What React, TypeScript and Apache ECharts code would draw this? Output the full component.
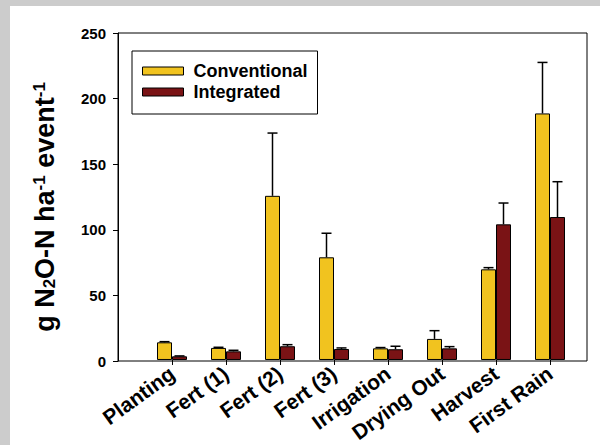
import React, { useEffect, useRef } from 'react';
import * as echarts from 'echarts';

const categories = ['Planting', 'Fert (1)', 'Fert (2)', 'Fert (3)', 'Irrigation', 'Drying Out', 'Harvest', 'First Rain'];
const conventional = [13.5, 9.2, 125.5, 78.5, 8.9, 16.1, 69.3, 188.5];
const conventionalErr = [0.5, 0.5, 48, 18.4, 0.6, 6.3, 1.3, 39];
const integrated = [2.8, 6.6, 10.5, 8.4, 8.2, 8.9, 103.7, 109.3];
const integratedErr = [0.3, 0.8, 1.2, 0.8, 2.3, 1.3, 16.3, 27];
const yTicks = [0, 50, 100, 150, 200, 250];

const FONT = '"Liberation Sans", Arial, sans-serif';
const YELLOW = '#F1C31F';
const DARKRED = '#7A1315';
const BAR_W = 15;

function errSeries(name: string, values: number[], errs: number[], offset: number) {
  return {
    type: 'custom',
    name: name + ' err',
    xAxisIndex: 1,
    yAxisIndex: 1,
    z: 5,
    silent: true,
    encode: { x: 0, y: [1, 2] },
    data: values.map((v, i) => [i, v, v + errs[i]]),
    renderItem: (params: any, api: any) => {
      const base = api.coord([api.value(0), api.value(1)]);
      const top = api.coord([api.value(0), api.value(2)]);
      const cx = base[0] + offset;
      const style = { stroke: '#000', lineWidth: 1.5 };
      return {
        type: 'group',
        children: [
          { type: 'line', shape: { x1: cx, y1: base[1], x2: cx, y2: top[1] }, style },
          { type: 'line', shape: { x1: cx - 5, y1: top[1], x2: cx + 5, y2: top[1] }, style },
        ],
      };
    },
  };
}

export default function App() {
  const ref = useRef<HTMLDivElement>(null);
  useEffect(() => {
    if (!ref.current) return;
    const chart = echarts.init(ref.current, null, { renderer: 'svg' });
    const yMin = yTicks[0];
    const yMax = yTicks[yTicks.length - 1];
    const yInt = yTicks[1] - yTicks[0];
    chart.setOption({
      animation: false,
      backgroundColor: '#ffffff',
      textStyle: { fontFamily: FONT },
      grid: [
        { left: 108, right: 13, top: 27, bottom: 84, show: true, borderColor: '#000', borderWidth: 1, backgroundColor: 'transparent' },
        { left: 135, right: 23, top: 27, bottom: 84 },
      ],
      legend: {
        data: ['Conventional', 'Integrated'],
        orient: 'vertical',
        left: 122,
        top: 45,
        padding: [11, 10, 13, 10],
        itemWidth: 41,
        itemHeight: 8,
        itemGap: 3,
        icon: 'rect',
        borderColor: '#000',
        borderWidth: 1,
        itemStyle: { borderColor: '#000', borderWidth: 1 },
        textStyle: { fontSize: 18, fontWeight: 'bold', color: '#000', fontFamily: FONT, padding: [0, 0, 0, 5] },
      },
      xAxis: [
        { type: 'value', gridIndex: 0, min: 0, max: 1, show: false },
        {
          type: 'category',
          gridIndex: 1,
          data: categories,
          axisLine: { show: false },
          axisTick: { show: true, alignWithLabel: true, length: 5, lineStyle: { color: '#000', width: 1 } },
          axisLabel: { rotate: 36, interval: 0, margin: 11, fontSize: 21, fontWeight: 'bold', color: '#000', fontFamily: FONT },
        },
      ],
      yAxis: [
        {
          type: 'value',
          gridIndex: 0,
          min: yMin,
          max: yMax,
          interval: yInt,
          axisLine: { show: true, lineStyle: { color: '#000', width: 1 } },
          axisTick: { show: true, length: 5, lineStyle: { color: '#000', width: 1 } },
          axisLabel: { fontSize: 15, fontWeight: 'bold', color: '#000', margin: 12, fontFamily: FONT },
          splitLine: { show: false },
          name: '{m|g N}{s|2}{m|O-N ha}{p|-1}{m| event}{p|-1}',
          nameLocation: 'middle',
          nameRotate: 90,
          nameGap: 60,
          nameTextStyle: {
            fontFamily: FONT,
            padding: [0, 20, 0, 0],
            rich: {
              m: { fontSize: 27, fontWeight: 'bold', color: '#000', fontFamily: FONT },
              s: { fontSize: 17, fontWeight: 'bold', color: '#000', fontFamily: FONT, verticalAlign: 'bottom' },
              p: { fontSize: 17, fontWeight: 'bold', color: '#000', fontFamily: FONT, verticalAlign: 'top' },
            },
          },
        },
        { type: 'value', gridIndex: 1, min: yMin, max: yMax, interval: yInt, show: false },
      ],
      series: [
        {
          name: 'Conventional',
          type: 'bar',
          xAxisIndex: 1,
          yAxisIndex: 1,
          barWidth: BAR_W,
          barGap: '0%',
          data: conventional,
          itemStyle: { color: YELLOW, borderColor: '#000', borderWidth: 1 },
        },
        {
          name: 'Integrated',
          type: 'bar',
          xAxisIndex: 1,
          yAxisIndex: 1,
          barWidth: BAR_W,
          barGap: '0%',
          data: integrated,
          itemStyle: { color: DARKRED, borderColor: '#000', borderWidth: 1 },
        },
        errSeries('Conventional', conventional, conventionalErr, -BAR_W / 2),
        errSeries('Integrated', integrated, integratedErr, BAR_W / 2),
      ],
    });
    return () => chart.dispose();
  }, []);
  return (
    <div style={{ position: 'fixed', left: 0, top: 0, width: 600, height: 445, background: '#cccccc' }}>
      <div ref={ref} style={{ position: 'absolute', left: 10, top: 6, width: 590, height: 439 }} />
    </div>
  );
}
